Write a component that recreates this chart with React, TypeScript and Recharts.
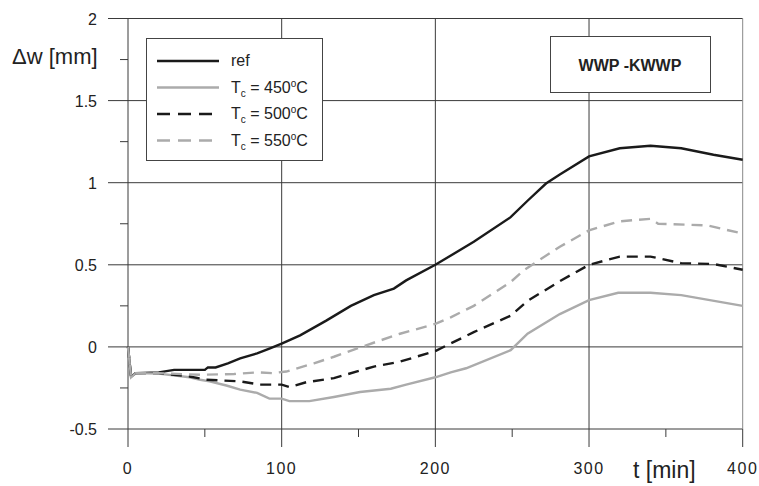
import React from "react";
import { LineChart, XAxis, YAxis, Line, ReferenceLine } from "recharts";

// time [min] and deflection [mm]
const tRef = [0, 2, 5, 20, 30, 50, 52, 57, 65, 73, 84, 92, 100, 112, 129, 145, 160, 173, 181, 200, 225, 249, 260, 272, 281, 300, 320, 340, 360, 381, 400];
const wRef = [0, -0.18, -0.16, -0.155, -0.14, -0.14, -0.125, -0.125, -0.1, -0.07, -0.04, -0.01, 0.02, 0.07, 0.16, 0.25, 0.315, 0.355, 0.405, 0.5, 0.64, 0.79, 0.89, 0.995, 1.05, 1.16, 1.21, 1.225, 1.21, 1.17, 1.14];

const t450 = [0, 2, 5, 20, 40, 47, 53, 64, 73, 84, 92, 100, 105, 118, 134, 151, 171, 181, 200, 210, 220, 249, 260, 281, 300, 319, 340, 360, 400];
const w450 = [0, -0.185, -0.16, -0.163, -0.185, -0.2, -0.21, -0.235, -0.26, -0.28, -0.315, -0.315, -0.33, -0.33, -0.305, -0.275, -0.255, -0.23, -0.185, -0.155, -0.13, -0.02, 0.08, 0.2, 0.285, 0.33, 0.33, 0.315, 0.25];

const t500 = [0, 2, 5, 20, 40, 51, 73, 86, 100, 105, 116, 134, 160, 177, 200, 225, 249, 260, 281, 300, 320, 340, 360, 381, 400];
const w500 = [0, -0.185, -0.16, -0.16, -0.18, -0.2, -0.21, -0.23, -0.23, -0.245, -0.215, -0.19, -0.12, -0.09, -0.025, 0.09, 0.19, 0.28, 0.4, 0.5, 0.55, 0.55, 0.51, 0.505, 0.47];

const t550 = [0, 2, 5, 20, 47, 69, 84, 94, 103, 121, 134, 155, 177, 200, 210, 225, 249, 258, 281, 300, 320, 340, 345, 377, 400];
const w550 = [0, -0.185, -0.16, -0.16, -0.17, -0.165, -0.155, -0.16, -0.15, -0.1, -0.06, 0.01, 0.08, 0.14, 0.18, 0.25, 0.395, 0.47, 0.61, 0.71, 0.765, 0.78, 0.75, 0.74, 0.69];

const xTicks = [0, 50, 100, 150, 200, 250, 300, 350, 400];
const yTicks = [-0.5, -0.25, 0, 0.25, 0.5, 0.75, 1, 1.25, 1.5, 1.75, 2];
const xGrid = [0, 100, 200, 300, 400];
const yGrid = [-0.5, 0, 0.5, 1, 1.5, 2];

const zip = (t: number[], w: number[]) => t.map((v, i) => ({ t: v, w: w[i] }));

const series = [
  { name: "ref", data: zip(tRef, wRef), color: "#1a1a1a", dash: undefined, temp: "" },
  { name: "450", data: zip(t450, w450), color: "#ababab", dash: undefined, temp: "450" },
  { name: "500", data: zip(t500, w500), color: "#1a1a1a", dash: "11 7", temp: "500" },
  { name: "550", data: zip(t550, w550), color: "#ababab", dash: "11 7", temp: "550" },
];

const FONT = "'Liberation Sans', Arial, sans-serif";
const GRID = "#3a3a3a";

const isMajor = (v: number, step: number) => Math.abs(v / step - Math.round(v / step)) < 1e-9;

const XTick = (props: any) => {
  const { x, y, payload } = props;
  const major = isMajor(payload.value, 100);
  return (
    <g>
      <line x1={x} x2={x} y1={y} y2={y + (major ? 18 : 8)} stroke={GRID} />
      {major && (
        <text x={x} y={y + 45} textAnchor="middle" fontSize={16} letterSpacing={1.5} fill="#222" fontFamily={FONT}>
          {payload.value}
        </text>
      )}
    </g>
  );
};

const YTick = (props: any) => {
  const { x, y, payload } = props;
  const major = isMajor(payload.value, 0.5);
  return (
    <g>
      <line x1={x - (major ? 20 : 8)} x2={x} y1={y} y2={y} stroke={GRID} />
      {major && (
        <text x={x - 31} y={y + 6} textAnchor="end" fontSize={16} fill="#222" fontFamily={FONT}>
          {payload.value}
        </text>
      )}
    </g>
  );
};

const LegendBox = () => (
  <svg width={759} height={486} style={{ position: "absolute", left: 0, top: 0, pointerEvents: "none" }}>
    <rect x={146.5} y={38.5} width={176} height={122} fill="#fff" stroke="#444" />
    {series.map((s, i) => {
      const y = 61 + i * 26.5;
      return (
        <g key={s.name}>
          <line x1={157} x2={219} y1={y} y2={y} stroke={s.color} strokeWidth={2.6} strokeDasharray={s.dash ? "13 8" : undefined} />
          <text x={231} y={y + 5} fontSize={16} fill="#222" fontFamily={FONT}>
            {s.temp === "" ? (
              "ref"
            ) : (
              <>
                T<tspan fontSize={10} dy={4}>c</tspan>
                <tspan dy={-4}>{" = " + s.temp}</tspan>
                <tspan fontSize={10} dy={-6}>o</tspan>
                <tspan dy={6}>C</tspan>
              </>
            )}
          </text>
        </g>
      );
    })}
    <rect x={550.5} y={36.5} width={160} height={56} fill="#fff" stroke="#444" />
    <text x={630} y={71} textAnchor="middle" fontSize={16} fontWeight="bold" fill="#222" fontFamily={FONT}>
      WWP -KWWP
    </text>
    <text x={12} y={64} fontSize={22} fill="#222" fontFamily={FONT}>
      Δw [mm]
    </text>
    <text x={633} y={478} fontSize={23} fill="#222" fontFamily={FONT}>
      t [min]
    </text>
  </svg>
);

export default function App() {
  return (
    <div style={{ position: "absolute", left: 0, top: 0, width: 759, height: 486, background: "#fff" }}>
      <LineChart width={759} height={486} margin={{ top: 18.5, right: 16.3, left: 0, bottom: 0 }}>
        <XAxis
          type="number"
          dataKey="t"
          domain={[0, 400]}
          ticks={xTicks}
          height={57}
          axisLine={false}
          tickLine={false}
          tickSize={0}
          tickMargin={0}
          tick={<XTick />}
          interval={0}
          allowDuplicatedCategory={false}
        />
        <YAxis
          type="number"
          domain={[-0.5, 2]}
          ticks={yTicks}
          width={128}
          axisLine={false}
          tickLine={false}
          tickSize={0}
          tickMargin={0}
          tick={<YTick />}
          interval={0}
        />
        {yGrid.map((v) => (
          <ReferenceLine key={"y" + v} y={v} stroke={GRID} strokeWidth={1} ifOverflow="visible" />
        ))}
        {xGrid.map((v) => (
          <ReferenceLine key={"x" + v} x={v} stroke={v === 400 ? "#888" : GRID} strokeWidth={1} ifOverflow="visible" />
        ))}
        {series.map((s) => (
          <Line
            key={s.name}
            data={s.data}
            dataKey="w"
            type="linear"
            stroke={s.color}
            strokeWidth={2.4}
            strokeDasharray={s.dash}
            dot={false}
            activeDot={false}
            isAnimationActive={false}
          />
        ))}
      </LineChart>
      <LegendBox />
    </div>
  );
}
